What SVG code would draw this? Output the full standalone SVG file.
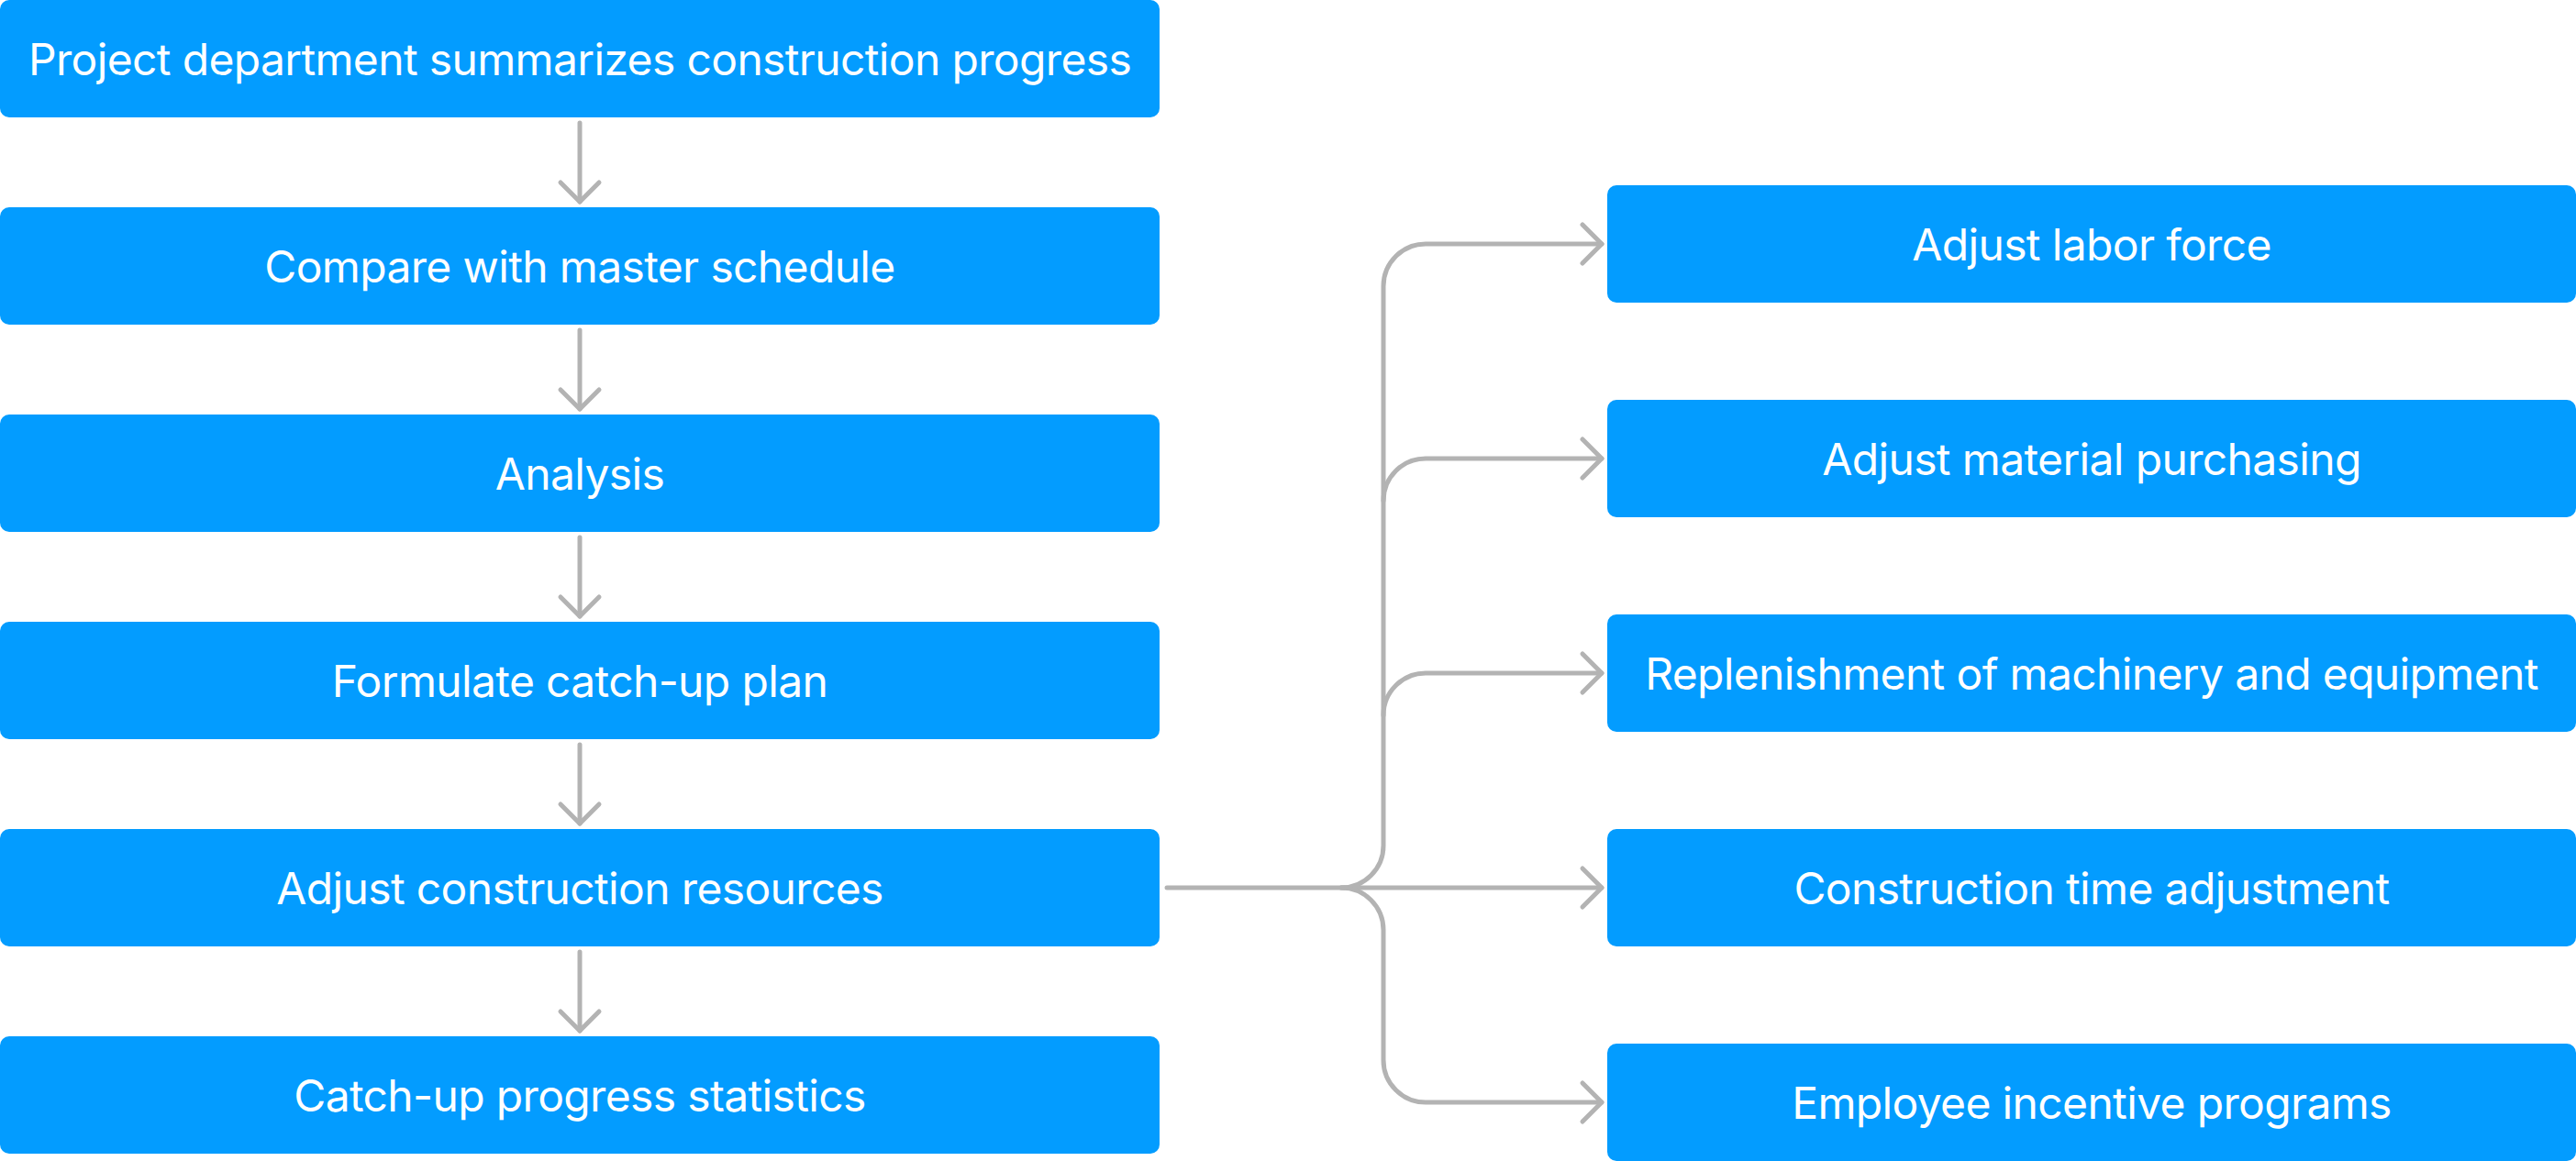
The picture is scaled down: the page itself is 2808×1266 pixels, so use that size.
<svg xmlns="http://www.w3.org/2000/svg" width="2808" height="1266" viewBox="0 0 2808 1266">
<defs>
<style>
.box{fill:#039CFF;}
.lbl{fill:#FFFFFF;font-family:Inter,"Noto Sans","Liberation Sans",sans-serif;font-size:48px;letter-spacing:-0.65px;text-anchor:middle;}
.con{fill:none;stroke:#B3B3B3;stroke-width:5;stroke-linecap:round;stroke-linejoin:round;}
</style>
<marker id="arr" markerUnits="userSpaceOnUse" markerWidth="60" markerHeight="60" viewBox="-30 -30 60 60" refX="0" refY="0" orient="auto" overflow="visible">
<path d="M-21,-21 L0,0 L-21,21" fill="none" stroke="#B3B3B3" stroke-width="5" stroke-linecap="round" stroke-linejoin="round"/>
</marker>
</defs>
<rect width="2808" height="1266" fill="#FFFFFF"/>
<g id="connectors">
<path class="con" d="M632,134 V220" marker-end="url(#arr)"/>
<path class="con" d="M632,360 V446" marker-end="url(#arr)"/>
<path class="con" d="M632,586 V672" marker-end="url(#arr)"/>
<path class="con" d="M632,812 V898" marker-end="url(#arr)"/>
<path class="con" d="M632,1038 V1124" marker-end="url(#arr)"/>
<path class="con" d="M1272,968 H1746" marker-end="url(#arr)"/>
<path class="con" d="M1462,968 A46,46 0 0 0 1508,922 V312 A46,46 0 0 1 1554,266 H1746" marker-end="url(#arr)"/>
<path class="con" d="M1508,546 A46,46 0 0 1 1554,500 H1746" marker-end="url(#arr)"/>
<path class="con" d="M1508,780 A46,46 0 0 1 1554,734 H1746" marker-end="url(#arr)"/>
<path class="con" d="M1462,968 A46,46 0 0 1 1508,1014 V1156 A46,46 0 0 0 1554,1202 H1746" marker-end="url(#arr)"/>
</g>
<g id="n1"><rect class="box" x="0" y="0" width="1264" height="128" rx="10"/><text class="lbl" x="632" y="81.5">Project department summarizes construction progress</text></g>
<g id="n2"><rect class="box" x="0" y="226" width="1264" height="128" rx="10"/><text class="lbl" x="632" y="307.5">Compare with master schedule</text></g>
<g id="n3"><rect class="box" x="0" y="452" width="1264" height="128" rx="10"/><text class="lbl" x="632" y="533.5">Analysis</text></g>
<g id="n4"><rect class="box" x="0" y="678" width="1264" height="128" rx="10"/><text class="lbl" x="632" y="759.5">Formulate catch-up plan</text></g>
<g id="n5"><rect class="box" x="0" y="904" width="1264" height="128" rx="10"/><text class="lbl" x="632" y="985.5">Adjust construction resources</text></g>
<g id="n6"><rect class="box" x="0" y="1130" width="1264" height="128" rx="10"/><text class="lbl" x="632" y="1211.5">Catch-up progress statistics</text></g>
<g id="r1"><rect class="box" x="1752" y="202" width="1056" height="128" rx="10"/><text class="lbl" x="2280" y="283.5">Adjust labor force</text></g>
<g id="r2"><rect class="box" x="1752" y="436" width="1056" height="128" rx="10"/><text class="lbl" x="2280" y="517.5">Adjust material purchasing</text></g>
<g id="r3"><rect class="box" x="1752" y="670" width="1056" height="128" rx="10"/><text class="lbl" x="2280" y="751.5">Replenishment of machinery and equipment</text></g>
<g id="r4"><rect class="box" x="1752" y="904" width="1056" height="128" rx="10"/><text class="lbl" x="2280" y="985.5">Construction time adjustment</text></g>
<g id="r5"><rect class="box" x="1752" y="1138" width="1056" height="128" rx="10"/><text class="lbl" x="2280" y="1219.5">Employee incentive programs</text></g>
</svg>
